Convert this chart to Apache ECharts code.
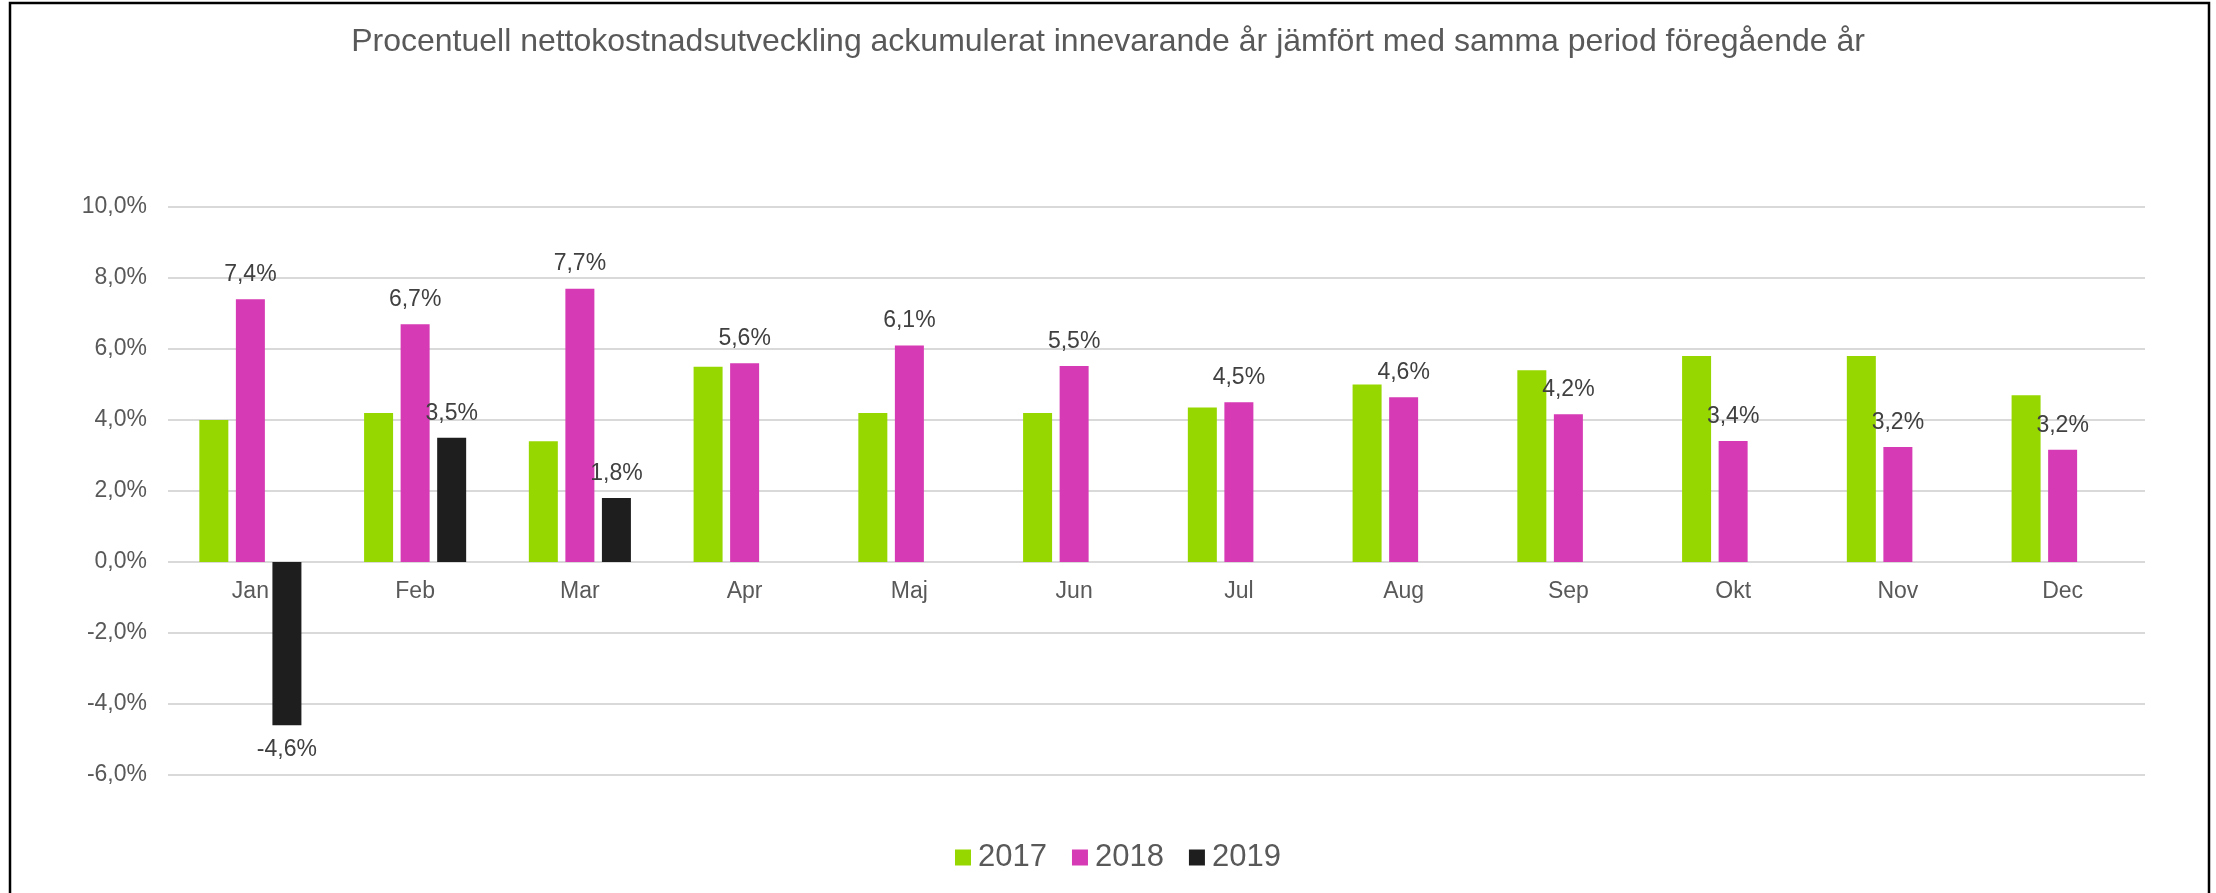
<!DOCTYPE html>
<html>
<head>
<meta charset="utf-8">
<script src="https://cdn.jsdelivr.net/npm/echarts@6/dist/echarts.min.js"></script>
<style>
html,body{margin:0;padding:0;background:#fff;}
#c{width:2216px;height:893px;}
</style>
</head>
<body>
<div id="c"></div>
<script>
const titleText = 'Procentuell nettokostnadsutveckling ackumulerat innevarande år jämfört med samma period föregående år';
const categories = ['Jan','Feb','Mar','Apr','Maj','Jun','Jul','Aug','Sep','Okt','Nov','Dec'];
const seriesNames = ['2017','2018','2019'];
const v2017 = [4.0, 4.2, 3.4, 5.5, 4.2, 4.2, 4.35, 5.0, 5.4, 5.8, 5.8, 4.7];
const v2018 = [7.4, 6.7, 7.7, 5.6, 6.1, 5.52, 4.5, 4.64, 4.16, 3.41, 3.24, 3.16];
const v2019 = [-4.6, 3.5, 1.8, null, null, null, null, null, null, null, null, null];
const yMin = -6, yMax = 10, yStep = 2;

const FONT = '"Liberation Sans", Arial, sans-serif';
const fmt = v => v.toFixed(1).replace('.', ',') + '%';

const GRID = { left: 168, right: 71, top: 207, bottom: 118 };
const plotH = 893 - GRID.top - GRID.bottom;
const zeroOffset = -plotH * (0 - yMin) / (yMax - yMin);

function withLabels(arr) {
  return arr.map(v => {
    if (v === null) return null;
    if (v < 0) return { value: v, label: { position: 'bottom' } };
    return v;
  });
}

const labelCfg = {
  show: true,
  position: 'top',
  distance: 13,
  fontFamily: FONT,
  fontSize: 23,
  color: '#404040',
  formatter: p => fmt(p.value)
};

const chart = echarts.init(document.getElementById('c'), null, { renderer: 'canvas' });
chart.setOption({
  backgroundColor: '#ffffff',
  animation: false,
  title: {
    text: titleText,
    left: 'center',
    top: 21,
    textStyle: { fontFamily: FONT, fontSize: 32, fontWeight: 'normal', color: '#595959' }
  },
  legend: {
    left: 950,
    top: 837,
    itemWidth: 16,
    itemHeight: 16,
    itemGap: 25,
    icon: 'rect',
    textStyle: { fontFamily: FONT, fontSize: 31, color: '#595959', padding: [0, 0, 0, 2] },
    data: seriesNames
  },
  grid: { left: GRID.left, right: GRID.right, top: GRID.top, bottom: GRID.bottom, containLabel: false },
  xAxis: {
    type: 'category',
    data: categories,
    offset: zeroOffset,
    axisLine: { show: false, onZero: false },
    axisTick: { show: false },
    axisLabel: { margin: 18, fontFamily: FONT, fontSize: 23, color: '#595959' }
  },
  yAxis: {
    type: 'value',
    min: yMin, max: yMax, interval: yStep,
    axisLine: { show: false },
    axisTick: { show: false },
    splitLine: { lineStyle: { color: '#d9d9d9', width: 2 } },
    axisLabel: { margin: 21, fontFamily: FONT, fontSize: 23, color: '#595959', formatter: v => fmt(v) }
  },
  series: [
    { name: seriesNames[0], type: 'bar', data: v2017, barWidth: 29, barGap: '26%', itemStyle: { color: '#97d700' } },
    { name: seriesNames[1], type: 'bar', data: withLabels(v2018), barWidth: 29, barGap: '26%', itemStyle: { color: '#d63ab4' }, label: labelCfg },
    { name: seriesNames[2], type: 'bar', data: withLabels(v2019), barWidth: 29, barGap: '26%', itemStyle: { color: '#1e1e1e' }, label: labelCfg }
  ],
  graphic: [{
    type: 'rect',
    silent: true,
    z: 100,
    shape: { x: 10, y: 3, width: 2199, height: 950 },
    style: { fill: 'none', stroke: '#000000', lineWidth: 2.5 }
  }]
});
</script>
</body>
</html>
